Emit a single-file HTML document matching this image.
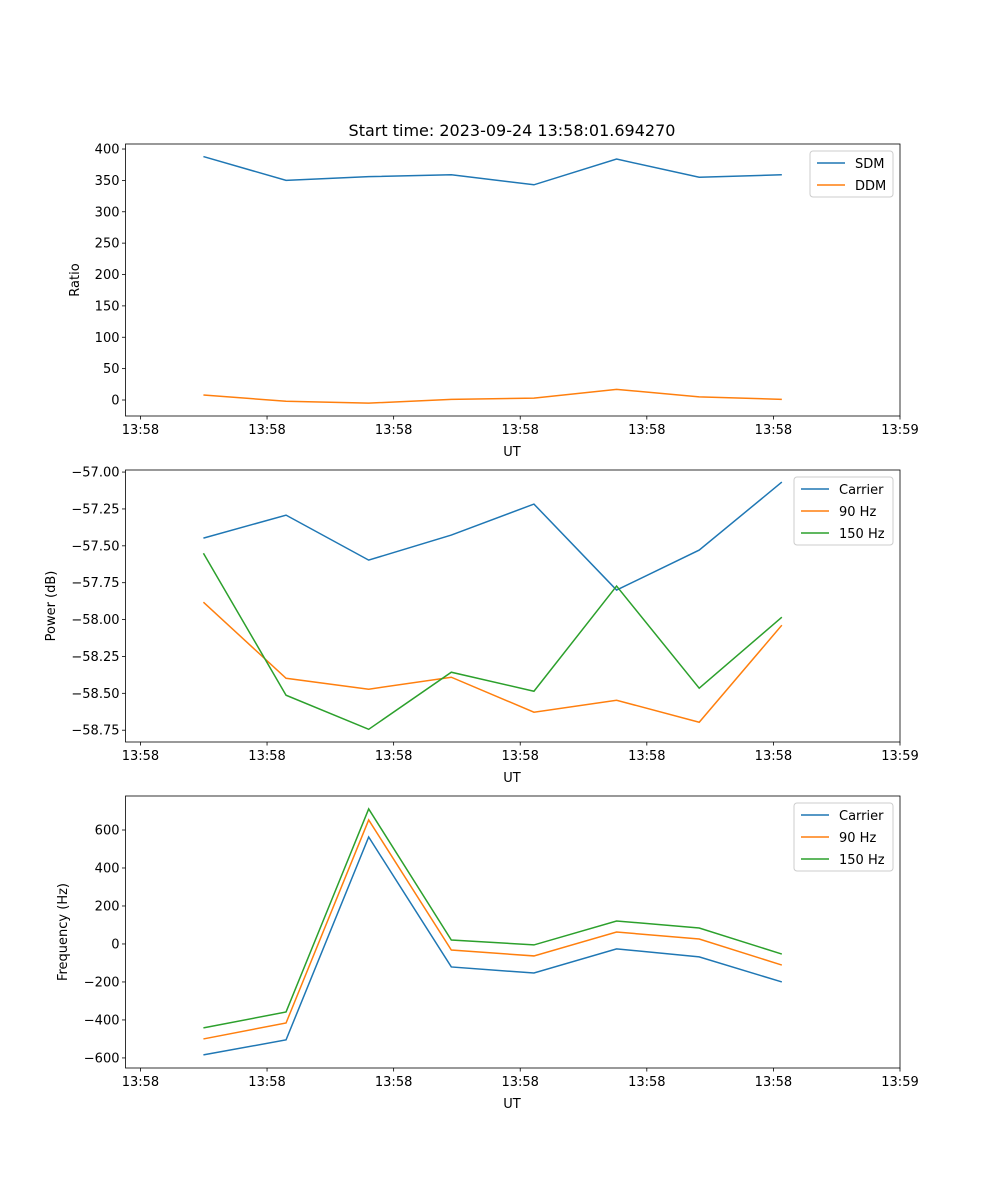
<!DOCTYPE html>
<html><head><meta charset="utf-8"><style>body{margin:0;background:#fff}svg{display:block;font-family:"DejaVu Sans","Liberation Sans",sans-serif}</style></head>
<body>
<svg id="fig" width="1000" height="1200" xmlns="http://www.w3.org/2000/svg">
<rect width="1000" height="1200" fill="#fff"/>
<text x="512" y="136" font-size="16" text-anchor="middle">Start time: 2023-09-24 13:58:01.694270</text>
</svg>
<script>
const xIdx = [0,1,2,3,4,5,6,7];
const xTickLabels = ["13:58","13:58","13:58","13:58","13:58","13:58","13:59"];
const sdm = [388,350,356,359,343,384,355,359];
const ddm = [8,-2,-5,1,3,17,5,1];
const powCarrier = [-57.448,-57.292,-57.597,-57.427,-57.217,-57.80,-57.529,-57.068];
const pow90 = [-57.882,-58.398,-58.472,-58.391,-58.628,-58.547,-58.696,-58.038];
const pow150 = [-57.55,-58.513,-58.744,-58.357,-58.486,-57.773,-58.465,-57.984];
const freqCarrier = [-584,-505,563,-121,-153,-26,-68,-200];
const freq90 = [-500,-416,653,-32,-63,63,26,-111];
const freq150 = [-442,-358,711,21,-5,121,84,-53];
const ticks1 = [0,50,100,150,200,250,300,350,400];
const ticks2 = [-58.75,-58.5,-58.25,-58,-57.75,-57.5,-57.25,-57];
const ticks3 = [-600,-400,-200,0,200,400,600];

const NS="http://www.w3.org/2000/svg";
const svg=document.getElementById('fig');
function el(t,a,p){const e=document.createElementNS(NS,t);for(const k in a)e.setAttribute(k,a[k]);(p||svg).appendChild(e);return e;}
const L=125.5,R=900;
const xMin=-0.943,xMax=8.43;
function xs(i){return L+(i-xMin)/(xMax-xMin)*(R-L);}
const C=['#1f77b4','#ff7f0e','#2ca02c'];

function panel(name,top,bot,yMin,yMax,yTicks,fmt,ylabel,series,names,legW){
  const g=el('g',{});
  
  
  const ys=v=>bot-(v-yMin)/(yMax-yMin)*(bot-top);
  series.forEach((s,k)=>{
    const p=el('polyline',{points:s.map((v,i)=>xs(xIdx[i])+','+ys(v)).join(' '),fill:'none',stroke:C[k],'stroke-width':1.5},g);
    
    
  });
  el('rect',{x:L,y:top,width:R-L,height:bot-top,fill:'none',stroke:'#000','stroke-width':0.8},g);
  yTicks.forEach(v=>{
    const y=ys(v);
    el('line',{x1:L-3.5,x2:L,y1:y,y2:y,stroke:'#000','stroke-width':0.8},g);
    const t=el('text',{x:L-6,y:y+4.5,'font-size':13,'text-anchor':'end'},g);t.textContent=fmt(v);
    
    
  });
  xTickLabels.forEach((lab,j)=>{
    const x=xs(-0.762+j*1.532);
    el('line',{x1:x,x2:x,y1:bot,y2:bot+3.5,stroke:'#000','stroke-width':0.8},g);
    const t=el('text',{x:x,y:bot+18,'font-size':13,'text-anchor':'middle'},g);t.textContent=lab;
    
    
  });
  const xl=el('text',{x:512,y:bot+40,'font-size':13,'text-anchor':'middle'},g);xl.textContent='UT';
  
  
  const yx=ylabel.lx;
  const yl=el('text',{x:yx,y:(top+bot)/2,'font-size':13,'text-anchor':'middle',transform:`rotate(-90 ${yx} ${(top+bot)/2})`},g);yl.textContent=ylabel.t;
  
  
  const lx=R-7-legW, ly=top+7;
  const lg=el('g',{},g);
  
  
  el('rect',{x:lx,y:ly,width:legW,height:2+names.length*22,rx:3,fill:'#fff','fill-opacity':0.8,stroke:'#ccc','stroke-width':1},lg);
  names.forEach((n,k)=>{
    const yy=ly+12+k*22;
    el('line',{x1:lx+7,x2:lx+35,y1:yy,y2:yy,stroke:C[k],'stroke-width':1.5},lg);
    const t=el('text',{x:lx+45,y:yy+5,'font-size':13},lg);t.textContent=n;
    
    
  });
}
panel('ratio',144,416,-25.5,408,ticks1,v=>String(v),{t:'Ratio',lx:79},[sdm,ddm],['SDM','DDM'],83);
panel('power',470,742,-58.83,-56.986,ticks2,v=>'\u2212'+Math.abs(v).toFixed(2),{t:'Power (dB)',lx:55},[powCarrier,pow90,pow150],['Carrier','90 Hz','150 Hz'],99);
panel('frequency',796,1068,-653,779,ticks3,v=>(v<0?'\u2212':'')+Math.abs(v),{t:'Frequency (Hz)',lx:67},[freqCarrier,freq90,freq150],['Carrier','90 Hz','150 Hz'],99);
</script>
</body></html>
